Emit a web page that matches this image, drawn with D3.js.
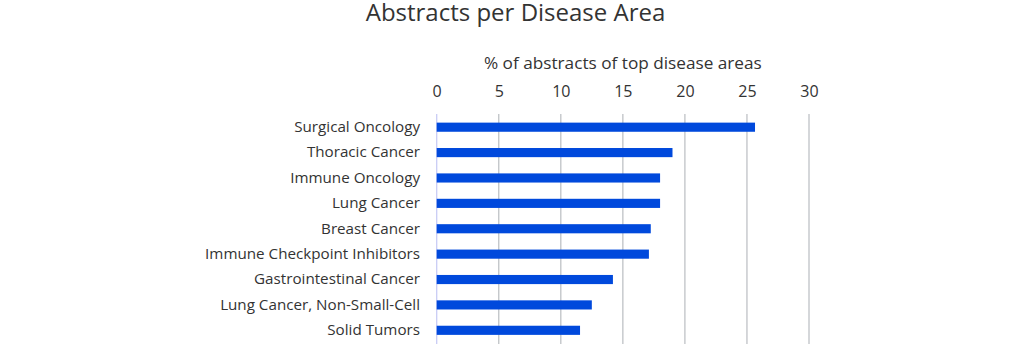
<!DOCTYPE html>
<html>
<head>
<meta charset="utf-8">
<script src="https://cdn.jsdelivr.net/npm/d3@7"></script>
<style>
  body { margin: 0; background: #fff; }
  svg { display: block; font-family: "Open Sans", Lato, sans-serif; }
</style>
</head>
<body>
<svg width="1024" height="344"></svg>
<script>
// data
var categories = ["Surgical Oncology", "Thoracic Cancer", "Immune Oncology", "Lung Cancer",
  "Breast Cancer", "Immune Checkpoint Inhibitors", "Gastrointestinal Cancer",
  "Lung Cancer, Non-Small-Cell", "Solid Tumors"];
var values = [25.65, 19.0, 18.0, 18.0, 17.25, 17.1, 14.2, 12.5, 11.55];
var ticks = [0, 5, 10, 15, 20, 25, 30];

var svg = d3.select('svg');
var plotLeft = 436.7, plotRight = 809, plotTop = 114.5, plotBottom = 343;
var font = '"Open Sans", Lato, sans-serif';

var x = d3.scaleLinear().domain([0, 30]).range([plotLeft, plotRight]);
var y = d3.scaleBand().domain(categories).range([plotTop, plotBottom]).paddingInner(0.64).paddingOuter(0.32);

// title
svg.append('text')
  .attr('x', 515.5).attr('y', 21)
  .attr('text-anchor', 'middle')
  .attr('font-size', 24)
  .attr('fill', '#333')
  .text('Abstracts per Disease Area');

svg.append('text')
  .attr('x', (plotLeft + plotRight) / 2).attr('y', 69)
  .attr('text-anchor', 'middle')
  .attr('font-size', 17.2)
  .attr('fill', '#333')
  .text('% of abstracts of top disease areas');

// gridlines
svg.append('g')
  .selectAll('line')
  .data(ticks)
  .enter().append('line')
  .attr('x1', function(d) { return x(d); })
  .attr('x2', function(d) { return x(d); })
  .attr('y1', 114).attr('y2', 344)
  .attr('stroke', function(d) { return d == 0 ? '#c9ccf5' : '#bfc2c6'; })
  .attr('stroke-width', 1.3);

// top axis labels
var axis = svg.append('g')
  .attr('transform', 'translate(0,97)')
  .call(d3.axisTop(x).tickValues(ticks).tickSize(0).tickPadding(0));
axis.select('.domain').remove();
axis.selectAll('text')
  .attr('font-family', font)
  .attr('font-size', 16)
  .attr('fill', '#333')
  .attr('dy', 0);

// category labels
var yaxis = svg.append('g')
  .attr('transform', 'translate(420,0)')
  .call(d3.axisLeft(y).tickSize(0).tickPadding(0));
yaxis.select('.domain').remove();
yaxis.selectAll('text')
  .attr('font-family', font)
  .attr('font-size', 15.2)
  .attr('fill', '#333');

// bars
svg.append('g')
  .selectAll('rect')
  .data(categories)
  .enter().append('rect')
  .attr('x', x(0))
  .attr('y', function(d) { return y(d); })
  .attr('width', function(d, i) { return x(values[i]) - x(0); })
  .attr('height', y.bandwidth())
  .attr('fill', '#0049dc');
</script>
</body>
</html>
